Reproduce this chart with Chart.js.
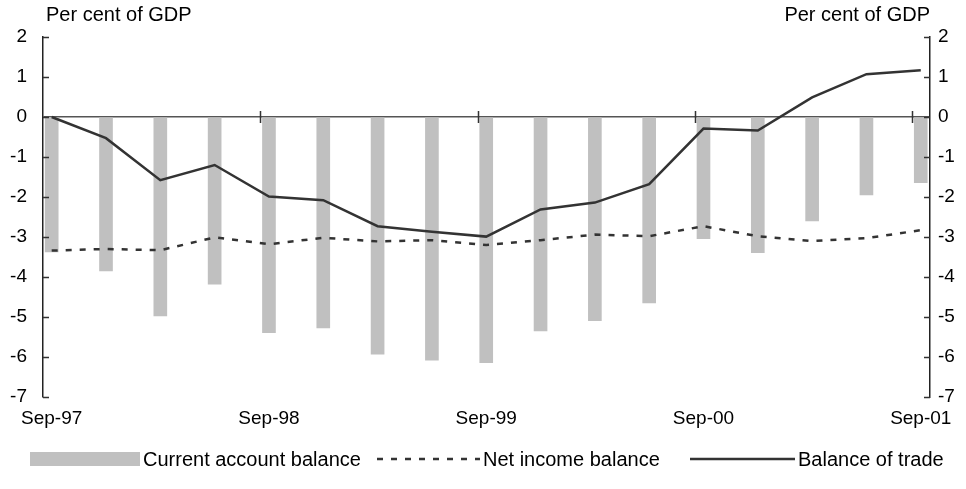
<!DOCTYPE html>
<html>
<head>
<meta charset="utf-8">
<script src="https://cdn.jsdelivr.net/npm/chart.js@4.4.1/dist/chart.umd.min.js"></script>
<style>
  html, body { margin: 0; padding: 0; background: #fff; }
</style>
</head>
<body>
<canvas id="myChart" width="966" height="489"></canvas>
<script>
// quarterly data, per cent of GDP
var quarters = ['Sep-97', 'Dec-97', 'Mar-98', 'Jun-98', 'Sep-98', 'Dec-98', 'Mar-99', 'Jun-99', 'Sep-99',
                'Dec-99', 'Mar-00', 'Jun-00', 'Sep-00', 'Dec-00', 'Mar-01', 'Jun-01', 'Sep-01'];
var currentAccount = [-3.37, -3.85, -4.97, -4.18, -5.39, -5.27, -5.93, -6.08, -6.14, -5.35, -5.09, -4.65, -3.04, -3.39, -2.6, -1.95, -1.64];
var netIncome = [-3.34, -3.3, -3.33, -3.01, -3.18, -3.02, -3.11, -3.08, -3.2, -3.08, -2.94, -2.98, -2.73, -2.98, -3.1, -3.03, -2.83];
var tradeBalance = [0, -0.53, -1.58, -1.2, -1.99, -2.08, -2.73, -2.87, -2.99, -2.31, -2.14, -1.68, -0.29, -0.34, 0.49, 1.07, 1.17];
var yMin = -7, yMax = 2;
var labelEvery = 4;
var unitText = 'Per cent of GDP';
var seriesNames = ['Current account balance', 'Net income balance', 'Balance of trade'];

var FONT = "'Liberation Sans', Arial, sans-serif";
Chart.defaults.font.family = FONT;
Chart.defaults.color = '#000';

function pts(arr) {
  return arr.map(function (v, i) { return { x: i, y: v }; });
}

// axis lines, inward tick marks and the crossing ticks on the zero line
var axisMarks = {
  id: 'axisMarks',
  afterDatasetsDraw: function (chart) {
    var c = chart.ctx, a = chart.chartArea;
    var xs = chart.scales.x, ys = chart.scales.y;
    var y0 = ys.getPixelForValue(0);
    c.save();
    c.strokeStyle = '#333';
    c.lineWidth = 1.5;
    c.beginPath();
    for (var k = labelEvery; xs.min + k <= xs.max; k += labelEvery) {
      var px = Math.round(xs.getPixelForValue(xs.min + k)) + 0.5;
      c.moveTo(px, y0 - 6);
      c.lineTo(px, y0 + 6);
    }
    ys.ticks.forEach(function (t) {
      var py = Math.round(ys.getPixelForValue(t.value)) + 0.5;
      c.moveTo(a.left, py); c.lineTo(a.left + 6, py);
      c.moveTo(a.right - 6, py); c.lineTo(a.right, py);
    });
    c.stroke();
    c.restore();
  },
  afterDraw: function (chart) {
    var c = chart.ctx, a = chart.chartArea;
    c.save();
    c.fillStyle = '#000';
    c.font = '20px ' + FONT;
    c.textBaseline = 'alphabetic';
    c.textAlign = 'left';
    c.fillText(unitText, 46, 21);
    c.textAlign = 'right';
    c.fillText(unitText, a.right, 21);

    // legend
    var starts = [30, 377, 690];
    var widths = [110, 103, 105];
    var ly = 459;
    c.textAlign = 'left';
    c.textBaseline = 'middle';
    chart.data.datasets.forEach(function (ds, i) {
      var x = starts[i], w = widths[i];
      if (ds.type === 'bar') {
        c.fillStyle = ds.backgroundColor;
        c.fillRect(x, ly - 7, w, 14);
      } else {
        c.strokeStyle = ds.borderColor;
        c.lineWidth = ds.borderWidth;
        c.setLineDash(ds.borderDash || []);
        c.beginPath();
        c.moveTo(x, ly); c.lineTo(x + w, ly);
        c.stroke();
        c.setLineDash([]);
      }
      c.fillStyle = '#000';
      c.fillText(ds.label, x + w + 3, ly + 1);
    });
    c.restore();
  }
};

var ctx = document.getElementById('myChart');
var myChart = new Chart(ctx, {
  type: 'bar',
  data: {
    datasets: [{
      type: 'bar',
      label: seriesNames[0],
      data: pts(currentAccount),
      backgroundColor: '#c0c0c0',
      barThickness: 13,
      order: 3
    }, {
      type: 'line',
      label: seriesNames[1],
      data: pts(netIncome),
      borderColor: '#333',
      borderWidth: 2.5,
      borderDash: [6, 8],
      pointRadius: 0,
      tension: 0,
      order: 2
    }, {
      type: 'line',
      label: seriesNames[2],
      data: pts(tradeBalance),
      borderColor: '#333',
      borderWidth: 2.5,
      pointRadius: 0,
      tension: 0,
      order: 1
    }]
  },
  options: {
    responsive: false,
    animation: false,
    layout: { padding: { top: 37, bottom: 52, left: 0, right: 0 } },
    plugins: {
      legend: { display: false },
      tooltip: { enabled: false }
    },
    scales: {
      x: {
        type: 'linear',
        offset: false,
        min: -0.16,
        max: 16.17,
        grid: { display: false, drawTicks: false, offset: false },
        border: { display: false },
        afterBuildTicks: function (s) {
          s.ticks = quarters.map(function (q, i) { return i; })
            .filter(function (i) { return i % labelEvery === 0; })
            .map(function (v) { return { value: v }; });
        },
        ticks: {
          autoSkip: false,
          maxRotation: 0,
          padding: 10,
          font: { size: 19 },
          callback: function (v) { return quarters[v]; }
        },
        afterFit: function (s) { s.height = 40; }
      },
      y: {
        position: 'left',
        min: yMin,
        max: yMax,
        ticks: { stepSize: 1, padding: 16, font: { size: 19 } },
        grid: {
          drawTicks: false,
          lineWidth: 1.5,
          color: function (c) { return c.tick && c.tick.value === 0 ? '#555' : 'rgba(0,0,0,0)'; }
        },
        border: { display: true, color: '#222', width: 1.5 },
        afterFit: function (s) { s.width = 43; }
      },
      y2: {
        position: 'right',
        min: yMin,
        max: yMax,
        ticks: { stepSize: 1, padding: 8, font: { size: 19 } },
        grid: { display: false, drawTicks: false },
        border: { display: true, color: '#222', width: 1.5 },
        afterFit: function (s) { s.width = 36; }
      }
    }
  },
  plugins: [axisMarks]
});
</script>
</body>
</html>
